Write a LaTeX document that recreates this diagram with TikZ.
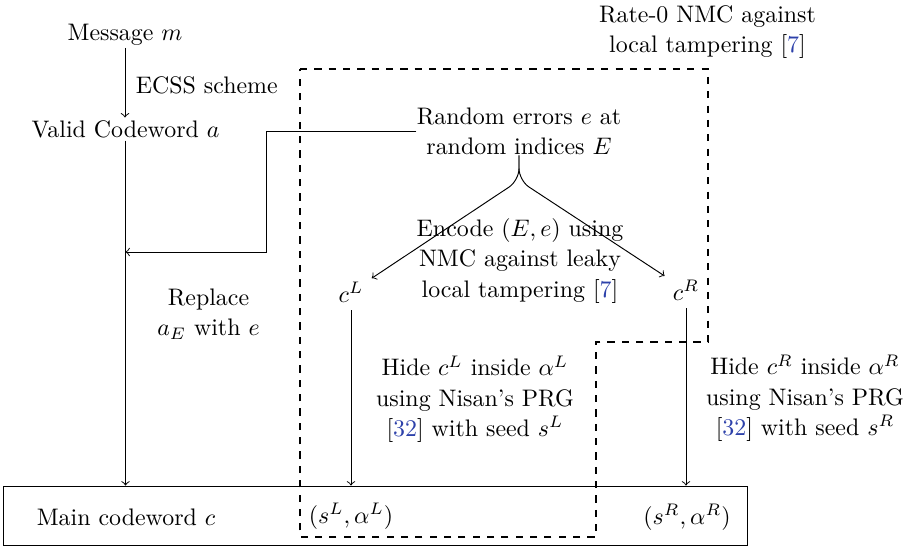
\documentclass[tikz,border=0pt]{standalone}
\usetikzlibrary{calc}
\definecolor{citeblue}{RGB}{45,65,170}
\newcommand{\citeref}[1]{[\textcolor{citeblue}{#1}]}
\begin{document}
\begin{tikzpicture}[x=0.4184pt,y=-0.4184pt,
  txt/.style={inner sep=1pt, align=center, font=\fontsize{10}{12.6}\selectfont},
  arr/.style={->},
  region/.style={dashed, thick}]
\useasboundingbox (0,0) rectangle (912,546);
% text nodes
\node[txt] (msg) at (125,34.5) {Message $m$};
\node[txt, anchor=west] (ecss) at (133,85) {ECSS scheme};
\node[txt] (valid) at (125.5,129) {Valid Codeword $a$};
\node[txt, inner sep=0pt] (rand) at (519,131.5) {Random errors $e$ at\\random indices $E$};
\node[txt] (rate) at (707.5,32) {Rate-0 NMC against\\local tampering \citeref{7}};
\node[txt] (enc) at (520,261) {Encode $(E,e)$ using\\NMC against leaky\\local tampering \citeref{7}};
\node (cL) at (351,292) {$c^L$};
\node (cR) at (686,290) {$c^R$};
\node[txt] (repl) at (208.5,314) {Replace\\$a_E$ with $e$};
\node[txt] (hideL) at (475,399) {Hide $c^L$ inside $\alpha^L$\\using Nisan's PRG\\\citeref{32} with seed $s^L$};
\node[txt] (hideR) at (805,398) {Hide $c^R$ inside $\alpha^R$\\using Nisan's PRG\\\citeref{32} with seed $s^R$};
% main codeword box
\node[draw, inner sep=0pt, minimum width=310.9pt, minimum height=24.7pt] (box) at (375.5,515.5) {};
\node[txt] (mainc) at (126,517) {Main codeword $c$};
\node[txt] (sL) at (351,516) {$(s^L,\alpha^L)$};
\node[txt] (sR) at (687,517) {$(s^R,\alpha^R)$};
% connectors
\coordinate (turn) at (266,252);
\draw[arr] (msg.south) -- (msg.south |- valid.north);
\draw[arr] (valid.south) -- (valid.south |- box.north);
\draw[arr] (rand.west) -| (turn) -- (turn -| valid.south);
\draw[arr, rounded corners=5pt] (rand.south) -- ++(0,25) -- (cL);
\draw[arr, rounded corners=5pt] (rand.south) -- ++(0,25) -- (cR);
\draw[arr] (cL.south) -- (cL.south |- box.north);
\draw[arr] (cR.south) -- (cR.south |- box.north);
% dashed region
\draw[region] (300,69) -- (708,69) -- (708,342) -- (596,342) -- (596,537) -- (300,537) -- cycle;
\end{tikzpicture}
\end{document}
